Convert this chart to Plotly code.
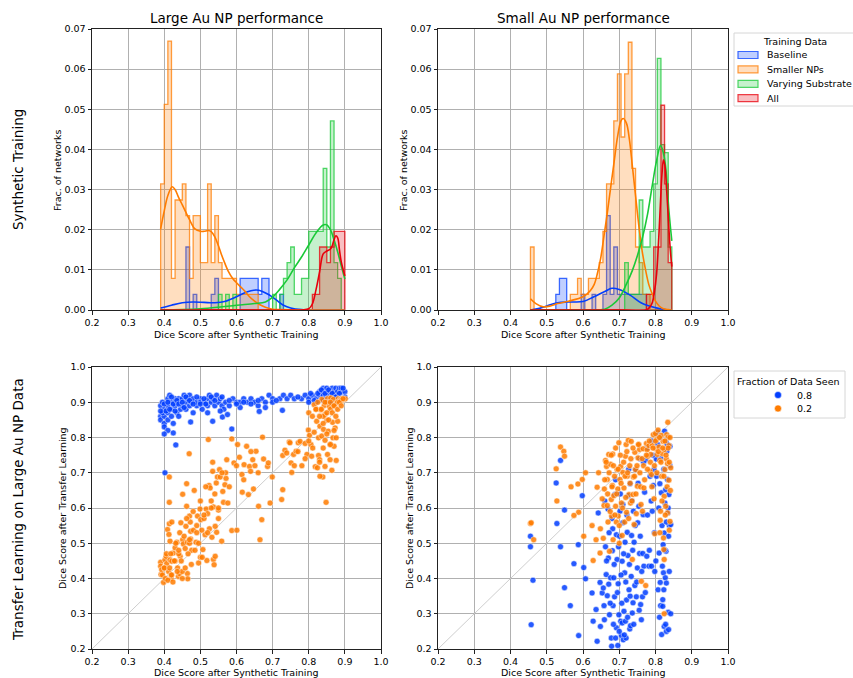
import plotly.graph_objects as go

# ---------------- DATA ----------------
TRAINING_SETS = ["Baseline", "Smaller NPs", "Varying Substrate", "All"]
FRACTIONS = ["0.8", "0.2"]

# Histograms (fraction of networks per bin), bins of width 0.01
LARGE_BIN_START = 0.39
SMALL_BIN_START = 0.455
BIN_WIDTH = 0.01

large_baseline = [0, 0, 0, 0, 0, 0, 0, 0.0157, 0, 0.0039, 0, 0, 0, 0, 0.0039, 0.0079,
                  0, 0, 0, 0, 0, 0, 0.0079, 0.0079, 0.0079, 0.0079, 0.0079, 0.0039, 0.0079, 0.0079,
                  0, 0, 0, 0.0039, 0, 0, 0, 0, 0, 0, 0, 0, 0, 0, 0, 0, 0, 0, 0, 0, 0]
large_smaller = [0.0314, 0.0512, 0.0670, 0.0079, 0.0274, 0.0274, 0.0314, 0.0235, 0.0079, 0.0235,
                 0.0235, 0.0118, 0.0118, 0.0314, 0.0118, 0.0235, 0.0118, 0.0079, 0.0079, 0.0079,
                 0.0079, 0.0039, 0.0039, 0.0039, 0.0039, 0.0039, 0.0039, 0, 0, 0, 0, 0, 0, 0, 0,
                 0, 0, 0, 0, 0, 0, 0, 0, 0, 0, 0, 0, 0, 0, 0, 0]
large_substrate = [0, 0, 0, 0, 0, 0, 0, 0, 0, 0, 0, 0, 0, 0, 0, 0, 0.0039, 0, 0.0039, 0, 0.0039,
                   0, 0, 0, 0, 0, 0, 0, 0, 0, 0, 0.0039, 0, 0.0039, 0.0079, 0.0118, 0.0157, 0.0039,
                   0.0039, 0.0079, 0.0079, 0.0196, 0.0196, 0.0196, 0.0196, 0.0353, 0.0157, 0.0471,
                   0.0118, 0.0079, 0]
large_all = [0] * 42 + [0.0039, 0.0039, 0.0157, 0.0157, 0.0118, 0.0157, 0.0196, 0.0196, 0.0196]

small_baseline = [0, 0, 0, 0, 0, 0, 0, 0.0039, 0.0079, 0.0079, 0, 0, 0, 0, 0.0039, 0, 0, 0.0039,
                  0, 0, 0.0039, 0.0235, 0.0039, 0.0157, 0.0039, 0.0039, 0.0039, 0.0039, 0.0039,
                  0.0039, 0.0039, 0.0039, 0, 0, 0, 0, 0, 0, 0]
small_smaller = [0.0157, 0, 0, 0, 0, 0, 0, 0, 0, 0, 0, 0.0039, 0.0039, 0.0079, 0.0039, 0.0039,
                 0.0079, 0.0079, 0.0079, 0.0118, 0.0196, 0.0314, 0.0314, 0.0471, 0.0588, 0.0431,
                 0.0588, 0.0667, 0.0353, 0.0157, 0.0118, 0.0039, 0.0039, 0, 0, 0, 0, 0, 0]
small_substrate = [0] * 26 + [0.0118, 0.0039, 0.0039, 0.0039, 0.0274, 0.0157, 0.0157, 0.0196,
                              0.0314, 0.0627, 0.0412, 0.0392, 0.0157]
small_all = [0] * 32 + [0.0039, 0.0039, 0.0157, 0.0157, 0.0510, 0.0314, 0.0118]

# KDE curves
kde_large_baseline_x = [0.39, 0.42, 0.45, 0.48, 0.51, 0.54, 0.57, 0.60, 0.62, 0.64, 0.655, 0.67, 0.69,
                        0.71, 0.73, 0.75, 0.78, 0.82, 0.86, 0.90]
kde_large_baseline_y = [0.0005, 0.0012, 0.0018, 0.0020, 0.0019, 0.0018, 0.0022, 0.0033, 0.0042, 0.0048,
                        0.0050, 0.0047, 0.0038, 0.0025, 0.0012, 0.0005, 0.0001, 0, 0, 0]
kde_large_smaller_x = [0.39, 0.40, 0.41, 0.422, 0.43, 0.44, 0.45, 0.46, 0.47, 0.485, 0.50, 0.51, 0.522,
                       0.53, 0.54, 0.55, 0.558, 0.567, 0.577, 0.59, 0.60, 0.612, 0.623, 0.636, 0.65,
                       0.665, 0.68, 0.70, 0.72, 0.75, 0.80, 0.85, 0.90]
kde_large_smaller_y = [0.0202, 0.0247, 0.0285, 0.0307, 0.0300, 0.0280, 0.0262, 0.0243, 0.0225, 0.0202,
                       0.0196, 0.0196, 0.0198, 0.0195, 0.0182, 0.0160, 0.0139, 0.0118, 0.0097, 0.0078,
                       0.0068, 0.0057, 0.0047, 0.0033, 0.0022, 0.0013, 0.0007, 0.0002, 0.0001, 0, 0, 0, 0]
kde_large_substrate_x = [0.39, 0.45, 0.50, 0.55, 0.60, 0.65, 0.68, 0.70, 0.72, 0.74, 0.76, 0.78, 0.80,
                         0.82, 0.84, 0.85, 0.86, 0.87, 0.88, 0.89, 0.90]
kde_large_substrate_y = [0, 0.0001, 0.0003, 0.0007, 0.0012, 0.0016, 0.0020, 0.0032, 0.0052, 0.0075,
                         0.0105, 0.0132, 0.0162, 0.0192, 0.0212, 0.0212, 0.0200, 0.0175, 0.0145,
                         0.0110, 0.0077]
kde_large_all_x = [0.39, 0.60, 0.78, 0.80, 0.81, 0.82, 0.83, 0.84, 0.85, 0.86, 0.865, 0.87, 0.875,
                   0.88, 0.885, 0.89, 0.90]
kde_large_all_y = [0, 0, 0, 0.0003, 0.0015, 0.0050, 0.0095, 0.0140, 0.0147, 0.0152, 0.0160, 0.0175,
                   0.0185, 0.0180, 0.0150, 0.0120, 0.0085]

kde_small_baseline_x = [0.455, 0.48, 0.50, 0.53, 0.56, 0.60, 0.63, 0.66, 0.68, 0.70, 0.73, 0.76, 0.79,
                        0.82, 0.845]
kde_small_baseline_y = [0, 0.0004, 0.0010, 0.0018, 0.0020, 0.0021, 0.0033, 0.0046, 0.0054, 0.0051,
                        0.0037, 0.0018, 0.0008, 0.0002, 0]
kde_small_smaller_x = [0.455, 0.47, 0.49, 0.51, 0.53, 0.56, 0.60, 0.62, 0.631, 0.64, 0.649, 0.658,
                       0.668, 0.677, 0.686, 0.695, 0.705, 0.711, 0.72, 0.728, 0.736, 0.745, 0.754,
                       0.763, 0.773, 0.782, 0.791, 0.80, 0.81, 0.82, 0.835, 0.845]
kde_small_smaller_y = [0.0028, 0.0016, 0.0008, 0.0010, 0.0016, 0.0022, 0.0033, 0.0048, 0.0064, 0.0092,
                       0.0130, 0.0185, 0.0248, 0.0310, 0.0370, 0.0430, 0.0472, 0.0477, 0.0465, 0.0425,
                       0.0360, 0.0285, 0.0210, 0.0148, 0.0098, 0.0062, 0.0040, 0.0022, 0.0010, 0.0004,
                       0.0001, 0]
kde_small_substrate_x = [0.455, 0.60, 0.66, 0.68, 0.70, 0.72, 0.736, 0.75, 0.764, 0.778, 0.791, 0.803,
                         0.814, 0.822, 0.828, 0.837, 0.845]
kde_small_substrate_y = [0, 0, 0.0002, 0.0012, 0.0030, 0.0065, 0.0098, 0.0135, 0.0180, 0.0238, 0.0310,
                         0.0372, 0.0410, 0.0390, 0.0356, 0.0248, 0.0172]
kde_small_all_x = [0.455, 0.70, 0.775, 0.785, 0.791, 0.797, 0.803, 0.809, 0.814, 0.818, 0.822, 0.826,
                   0.83, 0.835, 0.84, 0.845]
kde_small_all_y = [0, 0, 0, 0.0008, 0.0018, 0.0045, 0.0090, 0.0180, 0.0274, 0.0340, 0.0374, 0.0360,
                   0.0310, 0.0235, 0.0160, 0.0108]

# Scatter: large Au NP panel
large_f08_x = [0.39, 0.39, 0.39, 0.40, 0.40, 0.40, 0.40, 0.40, 0.405, 0.41, 0.41, 0.41, 0.41, 0.41, 0.415,
               0.42, 0.42, 0.42, 0.425, 0.43, 0.43, 0.435, 0.44, 0.44, 0.445, 0.45, 0.45, 0.455, 0.46,
               0.46, 0.465, 0.47, 0.47, 0.475, 0.48, 0.49, 0.49, 0.50, 0.50, 0.505, 0.51, 0.52, 0.52,
               0.525, 0.53, 0.535, 0.54, 0.545, 0.55, 0.555, 0.56, 0.565, 0.57, 0.58, 0.59, 0.60, 0.61,
               0.62, 0.63, 0.64, 0.65, 0.66, 0.67, 0.68, 0.69, 0.70, 0.72, 0.73, 0.74, 0.75, 0.76, 0.78,
               0.79, 0.80, 0.81, 0.82, 0.83, 0.83, 0.84, 0.84, 0.845, 0.85, 0.85, 0.855, 0.86, 0.86,
               0.865, 0.87, 0.87, 0.875, 0.88, 0.88, 0.885, 0.89, 0.89, 0.90,
               0.402, 0.432, 0.425, 0.587, 0.473, 0.534, 0.561, 0.663, 0.727, 0.40, 0.395, 0.44, 0.48,
               0.52, 0.555, 0.575, 0.61, 0.68, 0.70, 0.82, 0.86, 0.90, 0.895, 0.84, 0.80,
               0.39, 0.395, 0.40, 0.405, 0.41, 0.415, 0.42, 0.425, 0.43, 0.435, 0.44, 0.45, 0.455,
               0.46, 0.47, 0.48, 0.49, 0.50, 0.51, 0.515, 0.53, 0.54, 0.56, 0.58, 0.60, 0.62, 0.64,
               0.66, 0.71, 0.77, 0.805, 0.815, 0.825, 0.835, 0.845, 0.855, 0.865, 0.875, 0.885, 0.895]
large_f08_y = [0.89, 0.86, 0.85, 0.88, 0.87, 0.86, 0.84, 0.83, 0.90, 0.89, 0.91, 0.87, 0.85, 0.82, 0.92,
               0.90, 0.88, 0.86, 0.84, 0.91, 0.89, 0.87, 0.90, 0.91, 0.88, 0.91, 0.89, 0.92, 0.90,
               0.88, 0.91, 0.92, 0.89, 0.90, 0.91, 0.89, 0.90, 0.91, 0.90, 0.88, 0.90, 0.91, 0.89,
               0.92, 0.90, 0.91, 0.89, 0.92, 0.90, 0.91, 0.89, 0.88, 0.90, 0.89, 0.91, 0.90, 0.90,
               0.91, 0.90, 0.91, 0.90, 0.89, 0.91, 0.90, 0.92, 0.91, 0.91, 0.92, 0.91, 0.92, 0.91, 0.91,
               0.92, 0.91, 0.92, 0.91, 0.92, 0.93, 0.92, 0.94, 0.91, 0.93, 0.94, 0.92, 0.93, 0.91,
               0.94, 0.92, 0.93, 0.94, 0.92, 0.93, 0.94, 0.93, 0.94, 0.93,
               0.70, 0.779, 0.813, 0.824, 0.844, 0.846, 0.858, 0.874, 0.877, 0.81, 0.87, 0.86, 0.87,
               0.87, 0.875, 0.865, 0.885, 0.885, 0.90, 0.90, 0.90, 0.915, 0.91, 0.905, 0.90,
               0.875, 0.90, 0.895, 0.875, 0.90, 0.88, 0.915, 0.895, 0.875, 0.905, 0.895, 0.90, 0.885,
               0.915, 0.905, 0.895, 0.915, 0.895, 0.91, 0.895, 0.915, 0.905, 0.915, 0.905, 0.895, 0.90,
               0.895, 0.905, 0.905, 0.915, 0.925, 0.905, 0.925, 0.935, 0.925, 0.935, 0.925, 0.915,
               0.925, 0.94]

large_f02_x = [0.39, 0.39, 0.391, 0.393, 0.398, 0.402, 0.405, 0.407, 0.412, 0.416, 0.419, 0.421, 0.414,
               0.409, 0.413, 0.416, 0.414, 0.414, 0.421, 0.425, 0.43, 0.435, 0.437, 0.439, 0.442, 0.444,
               0.446, 0.451, 0.451, 0.453, 0.458, 0.46, 0.462, 0.462, 0.464, 0.464, 0.465, 0.469, 0.47,
               0.472, 0.473, 0.473, 0.476, 0.481, 0.483, 0.488, 0.492, 0.495, 0.499, 0.501, 0.504,
               0.507, 0.513, 0.516, 0.518, 0.52, 0.522, 0.524, 0.525, 0.527, 0.532, 0.534, 0.534,
               0.536, 0.536, 0.538, 0.541, 0.541, 0.544, 0.545, 0.547, 0.55, 0.553, 0.555, 0.559,
               0.562, 0.564, 0.568, 0.571, 0.573, 0.576, 0.587, 0.587, 0.593, 0.601, 0.603, 0.608,
               0.615, 0.616, 0.621, 0.628, 0.633, 0.636, 0.639, 0.645, 0.647, 0.651, 0.654, 0.661,
               0.665, 0.67, 0.672, 0.675, 0.686, 0.688, 0.693, 0.699, 0.725, 0.728, 0.728, 0.734,
               0.739, 0.746, 0.748, 0.751, 0.753, 0.758, 0.765, 0.771, 0.776, 0.781, 0.79, 0.795,
               0.799, 0.802, 0.806, 0.808, 0.811, 0.815, 0.815, 0.818, 0.822, 0.824, 0.827, 0.827,
               0.83, 0.831, 0.833, 0.836, 0.836, 0.839, 0.841, 0.843, 0.845, 0.845, 0.848, 0.85, 0.852,
               0.852, 0.854, 0.857, 0.859, 0.861, 0.864, 0.866, 0.867, 0.868, 0.87, 0.873, 0.876,
               0.878, 0.88, 0.882, 0.876, 0.887, 0.891, 0.896, 0.901, 0.845, 0.831, 0.859,
               0.40, 0.42, 0.43, 0.45, 0.44, 0.47, 0.49, 0.50, 0.51, 0.53, 0.55, 0.57, 0.85, 0.87,
               0.88, 0.89, 0.86, 0.84, 0.82, 0.80,
               0.395, 0.40, 0.403, 0.406, 0.41, 0.415, 0.418, 0.42, 0.424, 0.428, 0.432, 0.436, 0.44,
               0.443, 0.447, 0.45, 0.455, 0.458, 0.462, 0.466, 0.47, 0.475, 0.48, 0.485, 0.49, 0.495,
               0.50, 0.505, 0.51, 0.515, 0.52, 0.53, 0.54, 0.55, 0.56, 0.58, 0.60, 0.62, 0.64, 0.66,
               0.81, 0.82, 0.825, 0.83, 0.835, 0.84, 0.845, 0.85, 0.855, 0.86, 0.865, 0.87, 0.875,
               0.88, 0.885, 0.89, 0.895, 0.87, 0.86, 0.85, 0.84, 0.83, 0.80, 0.79, 0.77, 0.76]
large_f02_y = [0.446, 0.435, 0.411, 0.425, 0.389, 0.453, 0.463, 0.442, 0.42, 0.453, 0.40, 0.449, 0.555,
               0.539, 0.525, 0.506, 0.616, 0.688, 0.56, 0.472, 0.487, 0.503, 0.43, 0.406, 0.414, 0.463,
               0.558, 0.639, 0.51, 0.498, 0.485, 0.548, 0.669, 0.605, 0.503, 0.414, 0.399, 0.754, 0.577,
               0.56, 0.534, 0.512, 0.48, 0.537, 0.65, 0.503, 0.577, 0.444, 0.597, 0.567, 0.537,
               0.482, 0.524, 0.597, 0.451, 0.584, 0.794, 0.664, 0.541, 0.657, 0.517, 0.73, 0.704,
               0.603, 0.454, 0.439, 0.463, 0.548, 0.671, 0.531, 0.688, 0.594, 0.709, 0.688, 0.506,
               0.647, 0.616, 0.666, 0.684, 0.737, 0.614, 0.536, 0.796, 0.728, 0.537, 0.78, 0.744,
               0.695, 0.645, 0.723, 0.775, 0.638, 0.718, 0.704, 0.737, 0.654, 0.72, 0.761, 0.605,
               0.51, 0.567, 0.801, 0.739, 0.718, 0.728, 0.614, 0.688, 0.624, 0.652, 0.749, 0.764,
               0.756, 0.787, 0.785, 0.728, 0.701, 0.752, 0.761, 0.785, 0.789, 0.72, 0.783, 0.752,
               0.821, 0.806, 0.78, 0.747, 0.77, 0.815, 0.893, 0.717, 0.846, 0.714, 0.799, 0.749,
               0.737, 0.832, 0.879, 0.908, 0.804, 0.688, 0.823, 0.891, 0.865, 0.792, 0.616, 0.849, 0.91,
               0.752, 0.818, 0.889, 0.78, 0.912, 0.707, 0.843, 0.799, 0.908, 0.775, 0.827, 0.799,
               0.898, 0.846, 0.91, 0.735, 0.908, 0.91, 0.908, 0.91, 0.718, 0.69, 0.737,
               0.43, 0.41, 0.45, 0.42, 0.47, 0.50, 0.53, 0.46, 0.57, 0.62, 0.60, 0.70, 0.90, 0.89,
               0.90, 0.905, 0.88, 0.86, 0.88, 0.87,
               0.41, 0.43, 0.40, 0.47, 0.395, 0.43, 0.47, 0.41, 0.39, 0.45, 0.50, 0.42, 0.48,
               0.53, 0.45, 0.40, 0.52, 0.43, 0.57, 0.47, 0.51, 0.44, 0.59, 0.48, 0.55, 0.50,
               0.62, 0.46, 0.58, 0.66, 0.53, 0.60, 0.64, 0.57, 0.70, 0.66, 0.72, 0.68, 0.76, 0.70,
               0.86, 0.88, 0.90, 0.86, 0.88, 0.84, 0.90, 0.87, 0.85, 0.90, 0.87, 0.89, 0.86,
               0.88, 0.90, 0.89, 0.91, 0.82, 0.78, 0.81, 0.77, 0.73, 0.79, 0.74, 0.76, 0.72]

# Scatter: small Au NP panel
small_f08_x = [0.455, 0.455, 0.457, 0.462, 0.528, 0.526, 0.538, 0.538, 0.549, 0.549, 0.565, 0.575, 0.587,
               0.588, 0.598, 0.602, 0.607, 0.625, 0.628, 0.636, 0.639, 0.642, 0.647, 0.648, 0.653,
               0.656, 0.658, 0.659, 0.662, 0.664, 0.667, 0.669, 0.67, 0.671, 0.673, 0.676, 0.678,
               0.679, 0.681, 0.682, 0.683, 0.685, 0.687, 0.688, 0.69, 0.692, 0.692, 0.694, 0.696,
               0.697, 0.699, 0.701, 0.702, 0.704, 0.706, 0.708, 0.708, 0.71, 0.711, 0.713, 0.715,
               0.716, 0.717, 0.719, 0.72, 0.722, 0.724, 0.725, 0.727, 0.729, 0.73, 0.731, 0.733, 0.734,
               0.736, 0.738, 0.739, 0.741, 0.743, 0.745, 0.747, 0.75, 0.751, 0.754, 0.756, 0.759,
               0.761, 0.764, 0.765, 0.766, 0.768, 0.77, 0.773, 0.776, 0.777, 0.782, 0.785, 0.789,
               0.791, 0.794, 0.796, 0.798, 0.80, 0.802, 0.805, 0.807, 0.81, 0.812, 0.813, 0.814,
               0.816, 0.817, 0.819, 0.82, 0.821, 0.822, 0.823, 0.824, 0.825, 0.826, 0.827, 0.828,
               0.829, 0.83, 0.83, 0.831, 0.833, 0.834, 0.834, 0.835, 0.836, 0.837, 0.838, 0.84, 0.842,
               0.829, 0.824,
               0.66, 0.665, 0.672, 0.675, 0.68, 0.684, 0.686, 0.69, 0.695, 0.698, 0.70, 0.703, 0.705,
               0.707, 0.71, 0.712, 0.714, 0.718, 0.721, 0.723, 0.726, 0.728, 0.73, 0.735, 0.737, 0.74,
               0.744, 0.748, 0.752, 0.755, 0.758, 0.762, 0.767, 0.772, 0.778, 0.783, 0.788, 0.793,
               0.797, 0.801, 0.806, 0.809, 0.811, 0.815, 0.818, 0.82, 0.823, 0.826, 0.828, 0.832,
               0.835, 0.838, 0.84, 0.842, 0.836, 0.813, 0.83, 0.803, 0.79, 0.757]
small_f08_y = [0.52, 0.49, 0.269, 0.395, 0.556, 0.671, 0.735, 0.49, 0.594, 0.374, 0.323, 0.442, 0.496,
               0.238, 0.635, 0.431, 0.399, 0.359, 0.279, 0.312, 0.222, 0.586, 0.389, 0.264, 0.359,
               0.373, 0.323, 0.283, 0.49, 0.411, 0.351, 0.597, 0.458, 0.384, 0.297, 0.402, 0.231,
               0.208, 0.479, 0.541, 0.323, 0.402, 0.348, 0.638, 0.231, 0.524, 0.26, 0.454, 0.21,
               0.385, 0.297, 0.52, 0.591, 0.279, 0.238, 0.449, 0.274, 0.558, 0.226, 0.307, 0.416,
               0.503, 0.279, 0.231, 0.339, 0.531, 0.465, 0.635, 0.368, 0.257, 0.669, 0.266, 0.406, 0.522,
               0.302, 0.331, 0.591, 0.503, 0.38, 0.709, 0.348, 0.43, 0.558, 0.605, 0.471, 0.326,
               0.283, 0.348, 0.471, 0.581, 0.435, 0.645, 0.737, 0.463, 0.77, 0.435, 0.69, 0.435,
               0.591, 0.664, 0.709, 0.42, 0.808, 0.739, 0.815, 0.368, 0.472, 0.669, 0.389, 0.323,
               0.643, 0.241, 0.435, 0.321, 0.496, 0.416, 0.368, 0.264, 0.818, 0.614, 0.402, 0.652,
               0.787, 0.387, 0.25, 0.761, 0.681, 0.586, 0.801, 0.304, 0.255, 0.638, 0.55, 0.775, 0.553,
               0.477, 0.529,
               0.62, 0.45, 0.53, 0.33, 0.57, 0.27, 0.44, 0.68, 0.36, 0.49, 0.25, 0.64, 0.41,
               0.33, 0.61, 0.47, 0.24, 0.39, 0.58, 0.29, 0.71, 0.44, 0.35, 0.62, 0.48, 0.27,
               0.55, 0.39, 0.67, 0.31, 0.52, 0.42, 0.73, 0.36, 0.58, 0.48, 0.62, 0.75,
               0.53, 0.45, 0.78, 0.60, 0.29, 0.74, 0.55, 0.34, 0.71, 0.48, 0.27, 0.78,
               0.60, 0.42, 0.72, 0.30, 0.52, 0.80, 0.56, 0.69, 0.79, 0.74]

small_f02_x = [0.455, 0.457, 0.464, 0.538, 0.547, 0.549, 0.526, 0.528, 0.567, 0.586, 0.598, 0.607, 0.588,
               0.575, 0.602, 0.625, 0.628, 0.636, 0.643, 0.639, 0.647, 0.648, 0.653, 0.656, 0.658,
               0.659, 0.662, 0.665, 0.667, 0.667, 0.669, 0.671, 0.673, 0.676, 0.678, 0.679, 0.681,
               0.682, 0.683, 0.685, 0.687, 0.69, 0.692, 0.694, 0.696, 0.697, 0.699, 0.702, 0.704,
               0.706, 0.708, 0.71, 0.713, 0.715, 0.717, 0.719, 0.72, 0.722, 0.725, 0.727, 0.729, 0.731,
               0.733, 0.736, 0.738, 0.739, 0.741, 0.743, 0.745, 0.747, 0.75, 0.752, 0.754, 0.756,
               0.759, 0.761, 0.764, 0.766, 0.768, 0.773, 0.775, 0.777, 0.779, 0.782, 0.785, 0.787,
               0.789, 0.791, 0.794, 0.796, 0.798, 0.80, 0.80, 0.803, 0.805, 0.807, 0.81, 0.812, 0.813,
               0.814, 0.816, 0.817, 0.819, 0.821, 0.822, 0.823, 0.824, 0.824, 0.825, 0.826, 0.828,
               0.83, 0.831, 0.833, 0.834, 0.835, 0.837, 0.838, 0.84, 0.842, 0.837, 0.833, 0.824,
               0.66, 0.664, 0.668, 0.672, 0.675, 0.678, 0.68, 0.684, 0.688, 0.69, 0.693, 0.697, 0.70,
               0.703, 0.705, 0.709, 0.712, 0.716, 0.718, 0.721, 0.723, 0.726, 0.73, 0.732, 0.735,
               0.738, 0.742, 0.746, 0.749, 0.753, 0.757, 0.76, 0.763, 0.767, 0.77, 0.775, 0.778,
               0.783, 0.786, 0.79, 0.793, 0.797, 0.80, 0.804, 0.808, 0.811, 0.815, 0.818, 0.82,
               0.823, 0.826, 0.829, 0.832, 0.835, 0.838, 0.84, 0.841, 0.827, 0.812, 0.70]
small_f02_y = [0.556, 0.558, 0.51, 0.773, 0.761, 0.747, 0.711, 0.62, 0.66, 0.668, 0.681, 0.70, 0.588,
               0.579, 0.52, 0.55, 0.451, 0.51, 0.70, 0.659, 0.472, 0.541, 0.626, 0.514, 0.607,
               0.654, 0.735, 0.718, 0.681, 0.607, 0.56, 0.752, 0.477, 0.724, 0.624, 0.577, 0.664,
               0.753, 0.51, 0.635, 0.69, 0.605, 0.56, 0.709, 0.654, 0.577, 0.785, 0.681, 0.718,
               0.614, 0.522, 0.701, 0.657, 0.56, 0.747, 0.78, 0.588, 0.69, 0.792, 0.638, 0.72, 0.614,
               0.789, 0.454, 0.638, 0.688, 0.553, 0.758, 0.709, 0.584, 0.662, 0.742, 0.78, 0.766,
               0.66, 0.392, 0.591, 0.768, 0.657, 0.38, 0.783, 0.765, 0.747, 0.777, 0.704, 0.752,
               0.695, 0.777, 0.808, 0.626, 0.527, 0.768, 0.811, 0.794, 0.752, 0.821, 0.773, 0.735, 0.565,
               0.591, 0.806, 0.69, 0.754, 0.789, 0.515, 0.482, 0.454, 0.30, 0.766, 0.709, 0.605,
               0.739, 0.808, 0.726, 0.843, 0.801, 0.679, 0.537, 0.562, 0.714, 0.777, 0.586, 0.633,
               0.68, 0.73, 0.64, 0.70, 0.59, 0.75, 0.66, 0.72, 0.58, 0.77, 0.64, 0.71, 0.55,
               0.75, 0.67, 0.60, 0.73, 0.69, 0.63, 0.76, 0.70, 0.57, 0.67, 0.74, 0.62,
               0.77, 0.69, 0.64, 0.72, 0.78, 0.70, 0.61, 0.74, 0.72, 0.68, 0.75, 0.71,
               0.79, 0.73, 0.66, 0.77, 0.72, 0.79, 0.70, 0.76, 0.80, 0.73, 0.62, 0.77,
               0.69, 0.79, 0.75, 0.66, 0.77, 0.73, 0.80, 0.65, 0.58, 0.53, 0.50]

# ---------------- STYLE ----------------
COL = {"Baseline": "#023eff", "Smaller NPs": "#ff7c00", "Varying Substrate": "#1ac938", "All": "#e8000b"}
FILL = {"Baseline": "rgba(2,62,255,0.25)", "Smaller NPs": "rgba(255,124,0,0.25)",
        "Varying Substrate": "rgba(26,201,56,0.25)", "All": "rgba(232,0,11,0.25)"}
EDGE = {"Baseline": "rgba(2,62,255,0.75)", "Smaller NPs": "rgba(255,124,0,0.75)",
        "Varying Substrate": "rgba(26,201,56,0.75)", "All": "rgba(232,0,11,0.75)"}
SC_COL = {"0.8": "#023eff", "0.2": "#ff7c00"}
FONT = "DejaVu Sans"

W, H = 853, 678
def px_x(p):
    return p / W
def px_y(p):
    return 1 - p / H

fig = go.Figure()

def step_xy(start, width, heights):
    edges = [start + width * i for i in range(len(heights) + 1)]
    xs = [edges[0]] + edges[:-1] + [edges[-1], edges[-1]]
    ys = [0] + list(heights) + [heights[-1], 0]
    return xs, ys

hist_sets = [
    ("x", "y", LARGE_BIN_START, [large_baseline, large_smaller, large_substrate, large_all]),
    ("x2", "y2", SMALL_BIN_START, [small_baseline, small_smaller, small_substrate, small_all]),
]
kde_sets = [
    ("x", "y", [(kde_large_baseline_x, kde_large_baseline_y), (kde_large_smaller_x, kde_large_smaller_y),
                (kde_large_substrate_x, kde_large_substrate_y), (kde_large_all_x, kde_large_all_y)]),
    ("x2", "y2", [(kde_small_baseline_x, kde_small_baseline_y), (kde_small_smaller_x, kde_small_smaller_y),
                  (kde_small_substrate_x, kde_small_substrate_y), (kde_small_all_x, kde_small_all_y)]),
]

for xa, ya, start, series in hist_sets:
    for name, h in zip(TRAINING_SETS, series):
        xs, ys = step_xy(start, BIN_WIDTH, h)
        fig.add_trace(go.Scatter(x=xs, y=ys, xaxis=xa, yaxis=ya, mode="lines", line_shape="hv",
                                 fill="tozeroy", fillcolor=FILL[name],
                                 line=dict(color=EDGE[name], width=1.3),
                                 showlegend=False, hoverinfo="skip"))
for xa, ya, curves in kde_sets:
    for name, (kx, ky) in zip(TRAINING_SETS, curves):
        fig.add_trace(go.Scatter(x=kx, y=ky, xaxis=xa, yaxis=ya, mode="lines", line_shape="spline",
                                 line=dict(color=COL[name], width=1.6), showlegend=False))

# diagonal reference lines
DIAG = [0.2, 1.0]
for xa, ya in [("x3", "y3"), ("x4", "y4")]:
    fig.add_trace(go.Scatter(x=DIAG, y=DIAG, xaxis=xa, yaxis=ya, mode="lines",
                             line=dict(color="#c8c8c8", width=0.9), showlegend=False, hoverinfo="skip"))

scatter_sets = [
    ("x3", "y3", [(large_f08_x, large_f08_y), (large_f02_x, large_f02_y)]),
    ("x4", "y4", [(small_f08_x, small_f08_y), (small_f02_x, small_f02_y)]),
]
for xa, ya, pts in scatter_sets:
    for frac, (sx, sy) in zip(FRACTIONS, pts):
        fig.add_trace(go.Scatter(x=sx, y=sy, xaxis=xa, yaxis=ya, mode="markers", name=frac,
                                 marker=dict(color=SC_COL[frac], size=6, opacity=0.85,
                                             line=dict(color="white", width=0.5)),
                                 showlegend=False))

axis_common = dict(showgrid=True, gridcolor="#b0b0b0", gridwidth=0.8, zeroline=False,
                   showline=True, linecolor="#222", linewidth=1, mirror=True, automargin=False,
                   ticks="outside", ticklen=3.5, tickcolor="#222",
                   tickfont=dict(family=FONT, size=9.5, color="#000"))

XD_L = [px_x(92), px_x(381)]
XD_R = [px_x(438), px_x(728)]
YD_T = [px_y(310), px_y(29)]
YD_B = [px_y(649), px_y(367)]
XTICKS = [0.2, 0.3, 0.4, 0.5, 0.6, 0.7, 0.8, 0.9, 1.0]
YTICKS_H = [0.0, 0.01, 0.02, 0.03, 0.04, 0.05, 0.06, 0.07]

fig.update_layout(
    width=W, height=H, autosize=False, margin=dict(l=0, r=0, t=0, b=0), showlegend=False,
    paper_bgcolor="white", plot_bgcolor="white", font=dict(family=FONT, color="#000"),
    xaxis=dict(domain=XD_L, range=[0.2, 1.0], tickvals=XTICKS, tickformat=".1f", anchor="y", **axis_common),
    yaxis=dict(domain=YD_T, range=[0, 0.07], tickvals=YTICKS_H, tickformat=".2f", anchor="x", **axis_common),
    xaxis2=dict(domain=XD_R, range=[0.2, 1.0], tickvals=XTICKS, tickformat=".1f", anchor="y2", **axis_common),
    yaxis2=dict(domain=YD_T, range=[0, 0.07], tickvals=YTICKS_H, tickformat=".2f", anchor="x2", **axis_common),
    xaxis3=dict(domain=XD_L, range=[0.2, 1.0], tickvals=XTICKS, tickformat=".1f", anchor="y3", **axis_common),
    yaxis3=dict(domain=YD_B, range=[0.2, 1.0], tickvals=XTICKS, tickformat=".1f", anchor="x3", **axis_common),
    xaxis4=dict(domain=XD_R, range=[0.2, 1.0], tickvals=XTICKS, tickformat=".1f", anchor="y4", **axis_common),
    yaxis4=dict(domain=YD_B, range=[0.2, 1.0], tickvals=XTICKS, tickformat=".1f", anchor="x4", **axis_common),
)

def add_text(text, x, y, size, angle=0, xanchor="center"):
    fig.add_annotation(text=text, x=px_x(x), y=px_y(y), xref="paper", yref="paper",
                       showarrow=False, textangle=angle, xanchor=xanchor, yanchor="middle",
                       font=dict(family=FONT, size=size, color="#000"))

def add_rect(x0, y0, x1, y1, fill, line, lw=1):
    fig.add_shape(type="rect", xref="paper", yref="paper",
                  x0=px_x(x0), x1=px_x(x1), y0=px_y(y1), y1=px_y(y0),
                  fillcolor=fill, line=dict(color=line, width=lw), layer="above")

# titles and axis labels
add_text("Large Au NP performance", 236, 18, 13.5)
add_text("Small Au NP performance", 583, 18, 13.5)
for cx in (236, 583):
    add_text("Dice Score after Synthetic Training", cx, 335, 9.5)
    add_text("Dice Score after Synthetic Training", cx, 672, 9.5)
add_text("Frac. of networks", 57, 170, 9.5, -90)
add_text("Frac. of networks", 403, 170, 9.5, -90)
add_text("Dice Score after Transfer Learning", 62, 508, 9.5, -90)
add_text("Dice Score after Transfer Learning", 409, 508, 9.5, -90)
add_text("Synthetic Training", 18, 170, 13.5, -90)
add_text("Transfer Learning on Large Au NP Data", 18, 510, 13.5, -90)

# legend: Training Data
add_rect(734, 33, 860, 106, "white", "#d6d6d6")
add_text("Training Data", 795, 42, 9.5)
for i, name in enumerate(TRAINING_SETS):
    cy = 55 + i * 14.4
    add_rect(738, cy - 3.5, 758, cy + 3.5, FILL[name], EDGE[name], 1.2)
    add_text(name, 765, cy, 9.5, xanchor="left")

# legend: Fraction of Data Seen
add_rect(734, 371, 845, 418, "white", "#d6d6d6")
add_text("Fraction of Data Seen", 788, 381, 9.5)
for i, frac in enumerate(FRACTIONS):
    cy = 395 + i * 13.5
    fig.add_shape(type="circle", xref="paper", yref="paper",
                  x0=px_x(778 - 3.5), x1=px_x(778 + 3.5), y0=px_y(cy + 3.5), y1=px_y(cy - 3.5),
                  fillcolor=SC_COL[frac], line=dict(color="white", width=0.5), layer="above")
    add_text(frac, 795, cy, 9.5, xanchor="left")

fig.write_html("out.html", config={"displayModeBar": False},
               post_script="document.body.style.margin='0px';document.body.style.overflow='hidden';")
